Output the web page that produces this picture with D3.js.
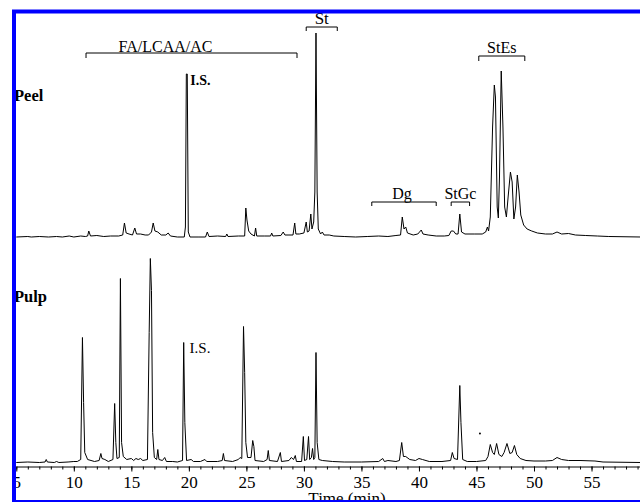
<!DOCTYPE html>
<html>
<head>
<meta charset="utf-8">
<script src="https://cdn.jsdelivr.net/npm/d3@7"></script>
<style>
html,body{margin:0;padding:0;background:#fff;}
svg{display:block;}
</style>
</head>
<body>
<svg id="chart" width="640" height="502"></svg>
<script>
// ---- data (time in min, detector signal in arbitrary units) ----
const peelTime = [5.0,6.0,6.3,7.0,7.8,8.5,9.0,9.6,10.0,10.6,11.0,11.2,11.3,11.45,12.0,12.6,13.2,13.9,
 14.25,14.4,14.55,14.8,15.1,15.3,15.45,15.8,16.2,16.5,16.75,16.9,17.05,17.3,17.6,18.0,18.2,18.4,19.0,19.6,
 19.7,19.78,19.86,19.95,20.1,20.8,21.45,21.6,21.75,22.5,23.2,23.3,23.4,24.3,24.85,24.95,25.05,25.2,25.4,
 25.7,25.8,25.9,26.6,27.1,27.2,27.3,28.0,28.2,28.35,28.7,29.05,29.2,29.3,29.6,30.0,30.2,30.3,30.45,30.6,
 30.7,30.85,30.95,31.05,31.15,31.25,31.45,31.6,31.75,32.2,32.6,33.5,34.5,35.5,36.5,37.3,38.0,38.4,38.55,
 38.7,38.85,39.0,39.5,39.9,40.2,40.35,40.8,41.5,42.2,42.6,42.8,43.0,43.2,43.4,43.55,43.7,44.0,44.8,45.5,
 45.8,45.95,46.05,46.2,46.4,46.55,46.65,46.8,46.9,47.0,47.15,47.3,47.45,47.6,47.75,47.95,48.1,48.25,48.4,
 48.55,48.7,48.85,49.1,49.4,49.8,50.3,51.0,51.6,52.0,52.4,53.0,53.6,54.5,55.5,56.5,59.3];
const peelSignal = [0,0.5,0,0.5,0,0.5,0,1,0,1,0.5,1,6,1,1.5,0.5,1,1,
 2,14,4,3,2,9,3,3,2,2,5,14,6,5,2,2,4,1,0,0,
 10,163,163,5,0,0,0,5,0.5,1,0.5,3,0.5,1,1,29,17,6,3,
 1,9,1,1,1,4,1,1.5,5,2,2,2,14,3,3,4,15,5,6,23,
 8,15,45,204,45,8,3,5,2,2,1,0.5,0,0.5,1,0.5,1.5,2,20,
 8,10,4,2,3,7,3,2,1,1,1.5,6,6,3,3,23,5,3,3,3,
 5,10,6,20,110,152,140,30,19,60,166,110,30,20,40,65,55,18,30,
 62,45,22,12,8,6,4,3,3,5,3,3.5,2,1.5,1,0.5,0];

const pulpTime = [5.0,6.0,7.0,7.5,7.6,7.7,8.3,8.5,8.7,9.5,10.0,10.3,10.6,10.75,10.85,10.95,11.2,11.8,
 12.2,12.35,12.45,12.7,13.0,13.4,13.55,13.65,13.75,13.95,14.05,14.15,14.3,14.6,15.0,15.2,15.4,15.6,15.8,
 16.0,16.4,16.55,16.65,16.75,16.85,17.0,17.2,17.3,17.4,17.7,17.9,18.05,18.6,19.0,19.45,19.55,19.65,19.8,
 20.2,20.4,21.0,21.4,21.55,22.5,22.9,23.0,23.1,23.8,24.3,24.45,24.6,24.75,24.85,24.95,25.1,25.4,25.55,
 25.65,25.75,26.5,26.8,26.9,27.0,27.7,27.95,28.05,28.7,28.9,29.1,29.25,29.35,29.8,29.95,30.05,30.25,30.4,
 30.5,30.65,30.75,30.85,30.95,31.05,31.15,31.3,31.6,32.5,33.5,35.0,36.5,36.85,37.0,37.3,38.0,38.3,38.5,
 38.65,38.85,39.2,39.7,40.0,40.3,40.9,42.0,42.75,42.9,43.05,43.35,43.55,43.65,43.8,44.2,45.0,45.8,46.0,
 46.2,46.4,46.55,46.75,46.95,47.2,47.4,47.65,47.9,48.1,48.3,48.5,48.8,49.3,50.0,51.0,51.6,52.0,52.4,53.0,
 54.0,55.3,56.0,59.3];
const pulpSignal = [0,0.5,0,0.5,3,0.5,0,1,0,0.5,1,1,3,125,60,10,3,1,
 2,9,4,3,1,3,59,20,4,5,184,20,6,3,4,2,4,3,4,
 2,3,130,204,172,30,5,3,13,3,2,5,1,1,0.5,2,120,40,2,
 3,1,1,3,1,1,2,9,2,1,3,5,4,136,90,20,5,5,22,
 16,2,1,3,12,2,1,10,1,2,5,3,7,1,1,26,2,3,26,
 3,5,14,3,5,110,20,3,2,1,0.5,0.5,1,4,1,2,1,2,20,
 6,6,3,2,4,3,1,1,2,10,4,3,77,40,3,1,1,2,6,
 18,10,8,19,8,6,10,19,9,10,17,8,4,2,1.5,1.5,2,5,3,2,
 2,1.5,0.5,0];
const pulpSpeck = [[45.3, 29]];

const xTicks = [5,10,15,20,25,30,35,40,45,50,55];
const minorTicks = d3.range(5, 60, 1);
const groupNames = ["FA/LCAA/AC","St","Dg","StGc","StEs"];
const groupStart = [11.06, 30.2, 35.9, 42.8, 45.2];
const groupEnd   = [29.4, 32.9, 41.5, 44.4, 49.2];

// ---- drawing ----
const FONT = '"Liberation Serif", "Times New Roman", Times, "DejaVu Serif", serif';
const svg = d3.select("#chart").attr("font-family", FONT);
const x = d3.scaleLinear().domain([5, 59.3]).range([16.3, 641]);
const yPeel = d3.scaleLinear().domain([0, 210]).range([237, 27]);
const yPulp = d3.scaleLinear().domain([0, 210]).range([462.5, 252.5]);

function label(px, py, txt, size, opts = {}) {
  return svg.append("text").attr("x", px).attr("y", py)
    .attr("text-anchor", opts.anchor || "start")
    .style("font-family", FONT).style("font-size", size + "px")
    .style("font-weight", opts.bold ? "bold" : "normal").style("fill", "#000")
    .text(txt);
}

function trace(times, vals, y) {
  const pts = times.map((t, i) => [t, vals[i]]);
  svg.append("path")
    .attr("d", d3.line().x(d => x(d[0])).y(d => y(d[1]))(pts))
    .attr("fill", "none").attr("stroke", "#000").attr("stroke-width", 1)
    .attr("stroke-linejoin", "round");
}
trace(peelTime, peelSignal, yPeel);
trace(pulpTime, pulpSignal, yPulp);

svg.selectAll("circle.speck").data(pulpSpeck).enter().append("circle")
  .attr("cx", d => x(d[0])).attr("cy", d => yPulp(d[1])).attr("r", 1).attr("fill", "#000");

// axis
const axisY = 466.5;
const gMinor = svg.append("g").attr("transform", `translate(0,${axisY})`)
  .call(d3.axisBottom(x).tickValues(minorTicks).tickSize(3).tickFormat(""));
gMinor.select(".domain").remove();
gMinor.selectAll("line").attr("stroke", "#000");
const gAxis = svg.append("g").attr("transform", `translate(0,${axisY})`)
  .call(d3.axisBottom(x).tickValues(xTicks).tickSize(5).tickSizeOuter(0).tickFormat(d3.format("d")));
gAxis.attr("font-family", FONT).attr("font-size", 17);
gAxis.selectAll("path,line").attr("stroke", "#000").attr("stroke-width", 1);
gAxis.selectAll("text").attr("y", 21.5).attr("dy", 0)
  .style("font-family", FONT).style("font-size", "17px").style("fill", "#000");

label(347, 504, "Time (min)", 17, {anchor: "middle"});

// group brackets
const brY = [53, 27, 202, 202, 56];
const brTick = [5, 4, 4, 4, 5];
const labY = [51.5, 23.5, 198.5, 198.5, 52.5];
groupNames.forEach((name, i) => {
  const x0 = x(groupStart[i]), x1 = x(groupEnd[i]);
  svg.append("path")
    .attr("d", `M${x0},${brY[i] + brTick[i]}V${brY[i]}H${x1}V${brY[i] + brTick[i]}`)
    .attr("fill", "none").attr("stroke", "#000").attr("stroke-width", 1);
  label((x0 + x1) / 2 + (i === 0 ? -26 : (i === 2 ? -2 : 0)), labY[i], name,
        i === 1 ? 17 : 16, {anchor: "middle"});
});

// sample labels
label(14, 101, "Peel", 16.5, {bold: true});
label(14, 302, "Pulp", 16.5, {bold: true});
label(x(19.95) + 2, 85, "I.S.", 14, {bold: true});
label(x(19.8) + 3, 353, "I.S.", 15);

// blue frame on top
svg.append("rect").attr("x", 14).attr("y", 11.5).attr("width", 700).attr("height", 490.5)
  .attr("fill", "none").attr("stroke", "#0000ff").attr("stroke-width", 4);
</script>
</body>
</html>
